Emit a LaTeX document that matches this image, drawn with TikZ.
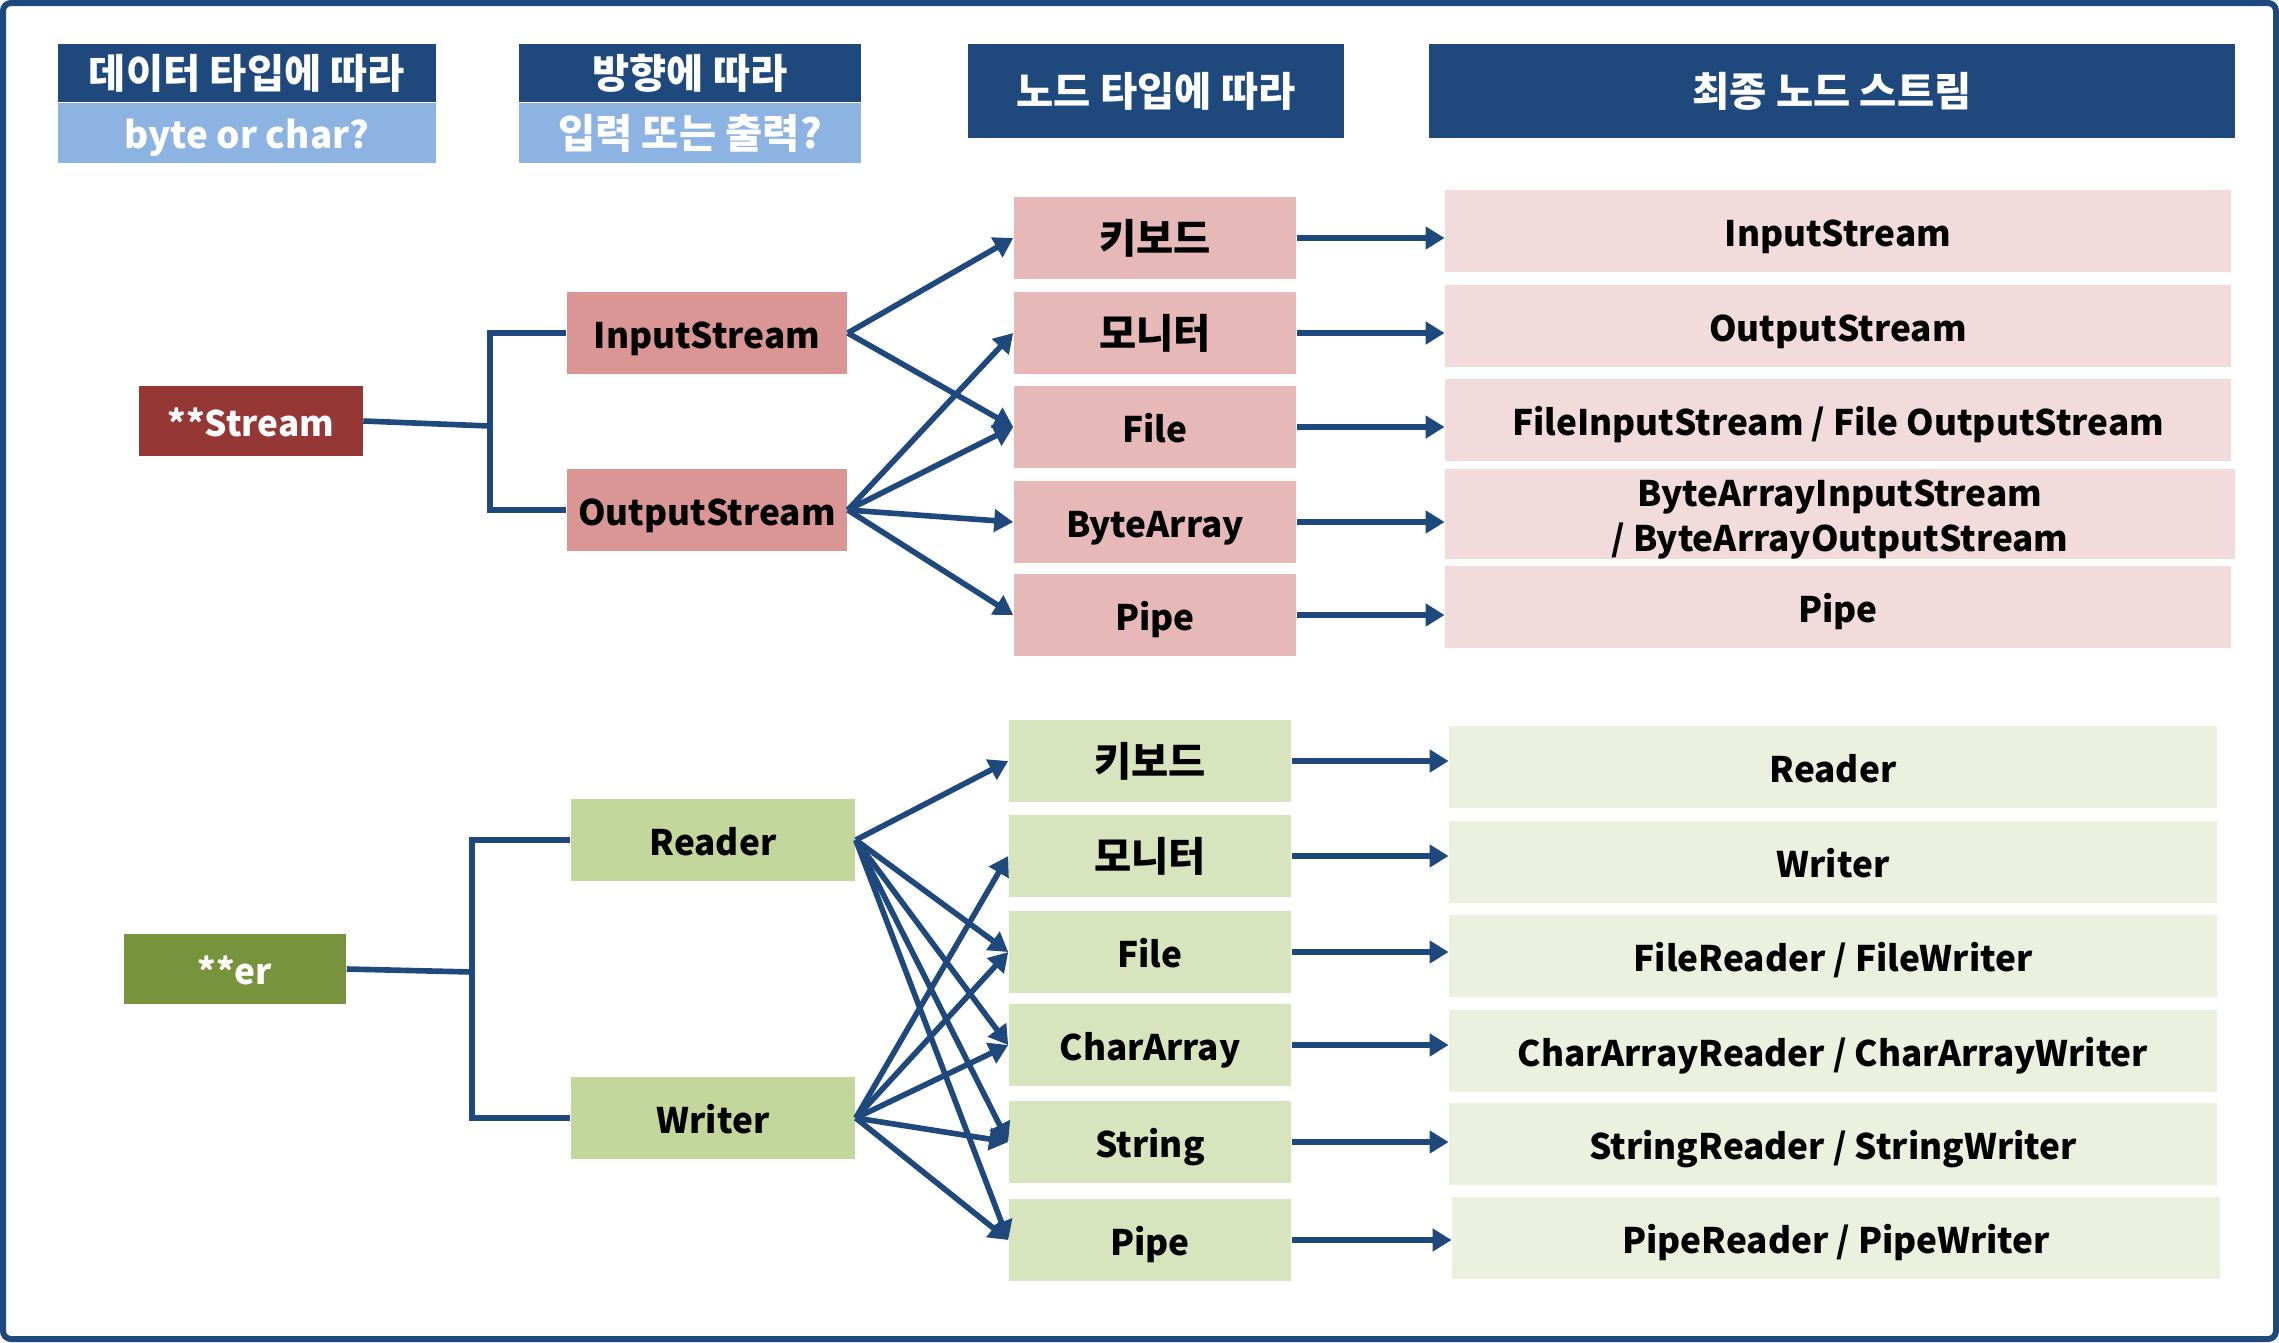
\documentclass[tikz,border=0pt]{standalone}
\usepackage{fontspec}
\setmainfont{Noto Sans CJK KR}
\usetikzlibrary{arrows.meta}
\definecolor{navy}{HTML}{1F497D}
\definecolor{skyblue}{HTML}{8DB3E2}
\definecolor{sroot}{HTML}{953735}
\definecolor{sdir}{HTML}{D99694}
\definecolor{snode}{HTML}{E6B9B8}
\definecolor{sfinal}{HTML}{F2DCDB}
\definecolor{rroot}{HTML}{77933C}
\definecolor{rdir}{HTML}{C3D69B}
\definecolor{rnode}{HTML}{D7E4BD}
\definecolor{rfinal}{HTML}{EBF1DE}

\begin{document}
\begin{tikzpicture}[x=0.01cm, y=-0.01cm, font=\fontsize{10}{12.8}\selectfont\bfseries,
    lbl/.style={text height=0.95em, text depth=0.08em},
    box/.style={inner sep=0pt, minimum height=0.82cm, lbl},
    kr/.style={font=\fontsize{11.5}{13}\selectfont\bfseries},
    title/.style={inner sep=0pt, fill=navy, text=white, kr, lbl},
    subtitle/.style={inner sep=0pt, fill=skyblue, text=white, lbl},
    link/.style={navy, line width=1.6pt},
    arr/.style={link, -{Triangle[length=0.19cm, width=0.22cm]}}]
    \useasboundingbox (0,0) rectangle (2279,1342);
    \draw[navy, line width=0.06cm, rounded corners=0.08cm] (3,3) rectangle (2276,1339);

    % headers
    \node[title, minimum width=3.78cm, minimum height=0.58cm] (h1) at (247,73) {데이터 타입에 따라};
    \node[subtitle, minimum width=3.78cm, minimum height=0.59cm, font=\fontsize{10.5}{13}\selectfont\bfseries] (h1b) at (247,133) {byte or char?};
    \node[title, minimum width=3.41cm, minimum height=0.58cm] (h2) at (690,73) {방향에 따라};
    \node[subtitle, minimum width=3.41cm, minimum height=0.59cm, kr] (h2b) at (690,133) {입력 또는 출력?};
    \node[title, minimum width=3.76cm, minimum height=0.94cm] (h3) at (1156,91) {노드 타입에 따라};
    \node[title, minimum width=8.06cm, minimum height=0.94cm] (h4) at (1832,91) {최종 노드 스트림};

    % byte streams
    \node[box, fill=sroot, text=white, minimum width=2.23cm, minimum height=0.69cm] (stream) at (251,421) {**Stream};
    \node[box, fill=sdir, minimum width=2.80cm] (instream) at (707,333) {InputStream};
    \node[box, fill=sdir, minimum width=2.80cm] (outstream) at (707,510) {OutputStream};
    \coordinate (sjoin) at (490,426);
    \draw[link] (stream.east) -- (sjoin);
    \draw[link] (instream.west) -| (sjoin) |- (outstream.west);

    \node[box, fill=snode, minimum width=2.82cm, kr] (skey) at (1155,238) {키보드};
    \node[box, fill=snode, minimum width=2.82cm, kr] (smon) at (1155,333) {모니터};
    \node[box, fill=snode, minimum width=2.82cm] (sfile) at (1155,427) {File};
    \node[box, fill=snode, minimum width=2.82cm] (sbyte) at (1155,522) {ByteArray};
    \node[box, fill=snode, minimum width=2.82cm] (spipe) at (1155,615) {Pipe};

    \node[box, fill=sfinal, minimum width=7.85cm] (fkey) at (1838,231) {InputStream};
    \node[box, fill=sfinal, minimum width=7.85cm] (fmon) at (1838,326) {OutputStream};
    \node[box, fill=sfinal, minimum width=7.85cm] (ffile) at (1838,420) {FileInputStream / File OutputStream};
    \node[box, fill=sfinal, minimum width=7.89cm, align=center, text height=2.35em, text depth=0.2em] (fbyte) at (1840,514) {ByteArrayInputStream\\/ ByteArrayOutputStream};
    \node[box, fill=sfinal, minimum width=7.85cm] (fpipe) at (1838,607) {Pipe};

    \draw[arr] (instream.east) -- (skey.west);
    \draw[arr] (instream.east) -- (sfile.west);
    \draw[arr] (outstream.east) -- (smon.west);
    \draw[arr] (outstream.east) -- (sfile.west);
    \draw[arr] (outstream.east) -- (sbyte.west);
    \draw[arr] (outstream.east) -- (spipe.west);
    \foreach \a/\b in {skey/fkey, smon/fmon, sfile/ffile, sbyte/fbyte, spipe/fpipe}
        \draw[arr] (\a.east) -- (\a.east -| \b.west);

    % char streams
    \node[box, fill=rroot, text=white, minimum width=2.22cm, minimum height=0.70cm] (er) at (235,969) {**er};
    \node[box, fill=rdir, minimum width=2.84cm] (reader) at (713,840) {Reader};
    \node[box, fill=rdir, minimum width=2.84cm] (writer) at (713,1118) {Writer};
    \coordinate (rjoin) at (472,972);
    \draw[link] (er.east) -- (rjoin);
    \draw[link] (reader.west) -| (rjoin) |- (writer.west);

    \node[box, fill=rnode, minimum width=2.82cm, kr] (rkey) at (1150,761) {키보드};
    \node[box, fill=rnode, minimum width=2.82cm, kr] (rmon) at (1150,856) {모니터};
    \node[box, fill=rnode, minimum width=2.82cm] (rfile) at (1150,952) {File};
    \node[box, fill=rnode, minimum width=2.82cm] (rchar) at (1150,1045) {CharArray};
    \node[box, fill=rnode, minimum width=2.82cm] (rstr) at (1150,1142) {String};
    \node[box, fill=rnode, minimum width=2.82cm] (rpipe) at (1150,1240) {Pipe};

    \node[box, fill=rfinal, minimum width=7.67cm] (gkey) at (1833,767) {Reader};
    \node[box, fill=rfinal, minimum width=7.67cm] (gmon) at (1833,862) {Writer};
    \node[box, fill=rfinal, minimum width=7.67cm] (gfile) at (1833,956) {FileReader / FileWriter};
    \node[box, fill=rfinal, minimum width=7.67cm] (gchar) at (1833,1051) {CharArrayReader / CharArrayWriter};
    \node[box, fill=rfinal, minimum width=7.67cm] (gstr) at (1833,1144) {StringReader / StringWriter};
    \node[box, fill=rfinal, minimum width=7.67cm] (gpipe) at (1836,1238) {PipeReader / PipeWriter};

    \foreach \b in {rkey, rfile, rchar, rstr, rpipe}
        \draw[arr] (reader.east) -- (\b.west);
    \foreach \b in {rmon, rfile, rchar, rstr, rpipe}
        \draw[arr] (writer.east) -- (\b.west);
    \foreach \a/\b in {rkey/gkey, rmon/gmon, rfile/gfile, rchar/gchar, rstr/gstr, rpipe/gpipe}
        \draw[arr] (\a.east) -- (\a.east -| \b.west);
\end{tikzpicture}
\end{document}
